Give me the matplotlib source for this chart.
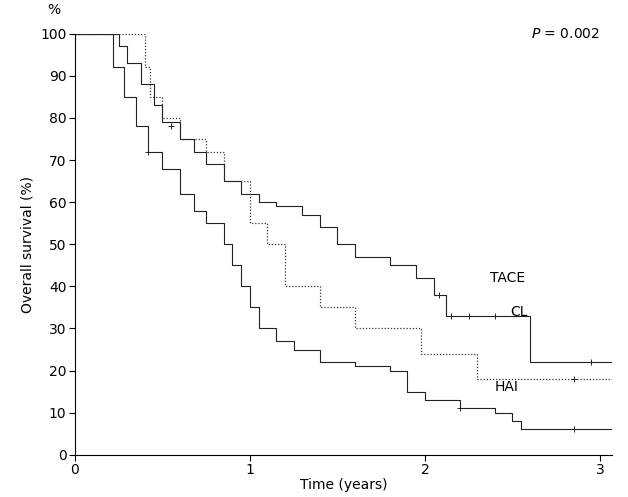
import matplotlib.pyplot as plt

# Kaplan-Meier step data (years, %)
tace_t = [0, 0.25, 0.3, 0.38, 0.45, 0.5, 0.6, 0.68, 0.75, 0.85, 0.95, 1.05, 1.15, 1.3, 1.4, 1.5, 1.6, 1.8, 1.95, 2.05, 2.12, 2.6, 3.07]
tace_s = [100, 97, 93, 88, 83, 79, 75, 72, 69, 65, 62, 60, 59, 57, 54, 50, 47, 45, 42, 38, 33, 22, 22]
cl_t = [0, 0.4, 0.43, 0.5, 0.6, 0.75, 0.85, 1.0, 1.1, 1.2, 1.4, 1.6, 1.98, 2.3, 3.07]
cl_s = [100, 92, 85, 80, 75, 72, 65, 55, 50, 40, 35, 30, 24, 18, 18]
hai_t = [0, 0.22, 0.28, 0.35, 0.42, 0.5, 0.6, 0.68, 0.75, 0.85, 0.9, 0.95, 1.0, 1.05, 1.15, 1.25, 1.4, 1.6, 1.8, 1.9, 2.0, 2.2, 2.4, 2.5, 2.55, 3.07]
hai_s = [100, 92, 85, 78, 72, 68, 62, 58, 55, 50, 45, 40, 35, 30, 27, 25, 22, 21, 20, 15, 13, 11, 10, 8, 6, 6]
tace_cens = [(0.55, 78), (2.08, 38), (2.15, 33), (2.25, 33), (2.4, 33), (2.95, 22)]
cl_cens = [(2.85, 18)]
hai_cens = [(0.42, 72), (2.2, 11), (2.85, 6)]

fig = plt.figure(figsize=(6.28, 4.97), dpi=100)
ax = fig.add_axes([0.119, 0.085, 0.856, 0.847])
ax.step(tace_t, tace_s, where='post', color='#222', lw=0.8)
ax.step(cl_t, cl_s, where='post', color='#333', lw=0.9, linestyle=(0, (1, 1.5)))
ax.step(hai_t, hai_s, where='post', color='#222', lw=0.8)
for pts in (tace_cens, cl_cens, hai_cens):
    ax.plot([p[0] for p in pts], [p[1] for p in pts], '+', color='#222', ms=4, mew=0.7)

ax.text(2.37, 42, 'TACE', fontsize=10, va='center')
ax.text(2.49, 34, 'CL', fontsize=10, va='center')
ax.text(2.4, 16, 'HAI', fontsize=10, va='center')
ax.text(3.0, 100, '$P$ = 0.002', fontsize=10, ha='right', va='center')
ax.text(-0.08, 104, '%', fontsize=10, ha='right', va='bottom')

ax.set_xlim(0, 3.07)
ax.set_ylim(0, 100)
ax.set_xticks([0, 1, 2, 3])
ax.set_yticks(range(0, 101, 10))
ax.tick_params(labelsize=10, direction='out', length=4, pad=2)
ax.spines['top'].set_visible(False)
ax.spines['right'].set_visible(False)
ax.set_xlabel('Time (years)', fontsize=10, labelpad=1)
ax.set_ylabel('Overall survival (%)', fontsize=10)
fig.savefig('out.png', dpi=100)
